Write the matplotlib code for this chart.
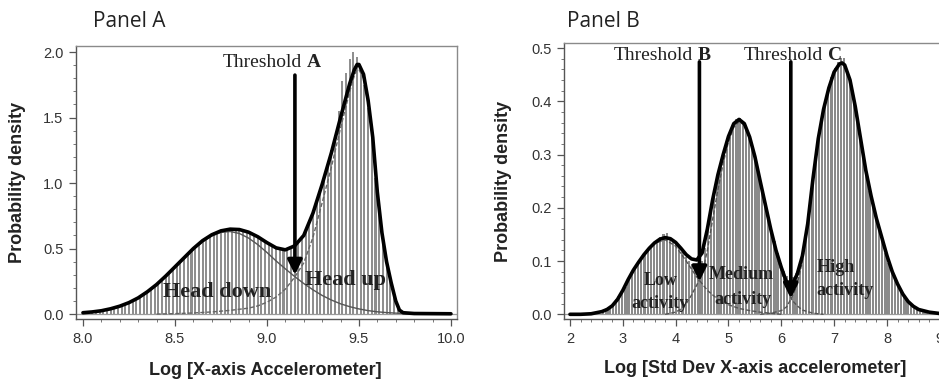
import numpy as np
import matplotlib
matplotlib.use("Agg")
import matplotlib.pyplot as plt
from matplotlib.ticker import MultipleLocator, FormatStrFormatter

# ---------------- Panel A data ----------------
A_BIN_START = 8.0
A_BIN_W = 0.02
a_bar_heights = [
    0.011, 0.014, 0.017, 0.02, 0.024, 0.028, 0.034, 0.041, 0.048, 0.056,
    0.066, 0.076, 0.088, 0.1, 0.115, 0.132, 0.15, 0.17, 0.19, 0.213,
    0.236, 0.262, 0.288, 0.316, 0.344, 0.372, 0.4, 0.428, 0.456, 0.484,
    0.51, 0.535, 0.557, 0.578, 0.595, 0.61, 0.622, 0.633, 0.64, 0.645,
    0.646, 0.645, 0.642, 0.636, 0.627, 0.616, 0.603, 0.588, 0.571, 0.553,
    0.536, 0.52, 0.506, 0.496, 0.491, 0.494, 0.505, 0.522, 0.548, 0.585,
    0.635, 0.705, 0.78, 0.862, 0.95, 1.04, 1.14, 1.25, 1.37, 1.55,
    1.78, 1.84, 1.95, 2.0, 1.96, 1.87, 1.75, 1.57, 1.38, 1.04,
    0.78, 0.54, 0.38, 0.25, 0.14, 0.05, 0.015,
]

a_fit_x = [8.0, 8.05, 8.1, 8.15, 8.2, 8.25, 8.3, 8.35, 8.4, 8.45, 8.5, 8.55,
           8.6, 8.65, 8.7, 8.75, 8.8, 8.85, 8.9, 8.95, 9.0, 9.05, 9.1, 9.15,
           9.2, 9.25, 9.3, 9.35, 9.4, 9.45, 9.475, 9.49, 9.5, 9.525, 9.55,
           9.575, 9.6, 9.625, 9.65, 9.675, 9.7, 9.72, 9.74, 9.8, 9.9, 10.0]
a_fit_y = [0.01, 0.016, 0.025, 0.04, 0.06, 0.087, 0.123, 0.17, 0.225, 0.29,
           0.36, 0.43, 0.50, 0.56, 0.605, 0.635, 0.648, 0.645, 0.625, 0.59,
           0.545, 0.505, 0.49, 0.52, 0.60, 0.77, 0.99, 1.23, 1.50, 1.76,
           1.865, 1.905, 1.905, 1.83, 1.63, 1.35, 0.93, 0.62, 0.40, 0.24,
           0.10, 0.03, 0.01, 0.004, 0.003, 0.002]

a_down_x = [8.0, 8.05, 8.1, 8.15, 8.2, 8.25, 8.3, 8.35, 8.4, 8.45, 8.5, 8.55,
            8.6, 8.65, 8.7, 8.75, 8.8, 8.85, 8.9, 8.95, 9.0, 9.05, 9.1, 9.15,
            9.2, 9.25, 9.3, 9.35, 9.4, 9.45, 9.5, 9.55, 9.6, 9.65, 9.7, 9.75,
            9.8, 9.9]
a_down_y = [0.009, 0.015, 0.024, 0.038, 0.058, 0.085, 0.121, 0.167, 0.222,
            0.285, 0.354, 0.424, 0.492, 0.551, 0.596, 0.623, 0.630, 0.615,
            0.58, 0.53, 0.47, 0.405, 0.345, 0.287, 0.233, 0.185, 0.142, 0.107,
            0.078, 0.056, 0.039, 0.026, 0.017, 0.011, 0.007, 0.004, 0.002, 0.0]

a_up_x = [8.4, 8.5, 8.6, 8.7, 8.8, 8.9, 8.95, 9.0, 9.05, 9.1, 9.15, 9.2, 9.25,
          9.3, 9.35, 9.4, 9.45, 9.475, 9.49, 9.5, 9.525, 9.55, 9.575, 9.6,
          9.625, 9.65, 9.675, 9.7, 9.72, 9.74, 9.8]
a_up_y = [0.0, 0.003, 0.008, 0.016, 0.028, 0.045, 0.062, 0.09, 0.13, 0.19,
          0.28, 0.39, 0.585, 0.85, 1.12, 1.42, 1.70, 1.82, 1.865, 1.865, 1.80,
          1.60, 1.33, 0.915, 0.61, 0.39, 0.23, 0.095, 0.025, 0.006, 0.0]

# ---------------- Panel B data ----------------
B_BIN_START = 2.6
B_BIN_W = 0.06
b_bar_heights = [
    0.005, 0.008, 0.012, 0.017, 0.023, 0.031, 0.041, 0.052, 0.064, 0.076,
    0.086, 0.095, 0.104, 0.112, 0.121, 0.128, 0.134, 0.14, 0.145, 0.15,
    0.152, 0.146, 0.14, 0.133, 0.126, 0.117, 0.108, 0.1, 0.094, 0.09,
    0.092, 0.1, 0.125, 0.16, 0.195, 0.228, 0.258, 0.285, 0.308, 0.328,
    0.345, 0.358, 0.366, 0.368, 0.362, 0.35, 0.334, 0.314, 0.29, 0.264,
    0.238, 0.212, 0.186, 0.16, 0.137, 0.115, 0.096, 0.082, 0.072, 0.068,
    0.07, 0.078, 0.092, 0.115, 0.145, 0.185, 0.24, 0.288, 0.332, 0.368,
    0.398, 0.425, 0.446, 0.462, 0.474, 0.481, 0.482, 0.46, 0.436, 0.404,
    0.37, 0.334, 0.298, 0.262, 0.232, 0.205, 0.18, 0.158, 0.137, 0.116,
    0.097, 0.08, 0.065, 0.052, 0.041, 0.032, 0.024, 0.018, 0.013, 0.01,
    0.008, 0.006, 0.004, 0.003, 0.002,
]

b_fit_x = [2.0, 2.2, 2.4, 2.6, 2.7, 2.8, 2.9, 3.0, 3.1, 3.2, 3.3, 3.4, 3.5,
           3.6, 3.7, 3.8, 3.9, 4.0, 4.1, 4.2, 4.3, 4.4, 4.5, 4.6, 4.7, 4.8,
           4.9, 5.0, 5.1, 5.2, 5.3, 5.4, 5.5, 5.6, 5.7, 5.8, 5.9, 6.0, 6.1,
           6.15, 6.2, 6.3, 6.4, 6.5, 6.6, 6.7, 6.8, 6.9, 7.0, 7.1, 7.15, 7.2,
           7.3, 7.4, 7.5, 7.6, 7.7, 7.8, 7.9, 8.0, 8.1, 8.2, 8.3, 8.4, 8.5,
           8.6, 8.8, 9.0, 9.3]
b_fit_y = [0.0, 0.0, 0.001, 0.005, 0.009, 0.016, 0.028, 0.045, 0.065, 0.083,
           0.098, 0.112, 0.124, 0.134, 0.141, 0.144, 0.142, 0.135, 0.124,
           0.112, 0.104, 0.102, 0.115, 0.16, 0.215, 0.262, 0.30, 0.334, 0.358,
           0.366, 0.358, 0.333, 0.296, 0.25, 0.205, 0.16, 0.12, 0.088, 0.06,
           0.052, 0.055, 0.075, 0.11, 0.17, 0.255, 0.33, 0.385, 0.425, 0.455,
           0.47, 0.472, 0.468, 0.44, 0.39, 0.33, 0.27, 0.222, 0.18, 0.145,
           0.11, 0.08, 0.057, 0.038, 0.024, 0.015, 0.009, 0.004, 0.0015, 0.0]

b_low_x = [2.2, 2.4, 2.6, 2.8, 3.0, 3.2, 3.4, 3.6, 3.8, 4.0, 4.2, 4.4, 4.6,
           4.8, 5.0, 5.2, 5.4, 5.6, 5.8, 6.0]
b_low_y = [0.0, 0.001, 0.005, 0.016, 0.045, 0.083, 0.112, 0.133, 0.140, 0.128,
           0.10, 0.07, 0.045, 0.028, 0.018, 0.011, 0.007, 0.004, 0.002, 0.0]

b_med_x = [3.8, 4.0, 4.1, 4.2, 4.3, 4.4, 4.5, 4.6, 4.7, 4.8, 4.9, 5.0, 5.1,
           5.2, 5.3, 5.4, 5.5, 5.6, 5.7, 5.8, 5.9, 6.0, 6.1, 6.2, 6.3, 6.4,
           6.6, 6.8]
b_med_y = [0.0, 0.004, 0.01, 0.02, 0.036, 0.055, 0.075, 0.12, 0.178, 0.234,
           0.284, 0.324, 0.351, 0.362, 0.355, 0.33, 0.293, 0.248, 0.202,
           0.156, 0.115, 0.08, 0.051, 0.027, 0.016, 0.008, 0.002, 0.0]

b_high_x = [5.6, 5.8, 6.0, 6.1, 6.2, 6.3, 6.4, 6.5, 6.6, 6.7, 6.8, 6.9, 7.0,
            7.1, 7.15, 7.2, 7.3, 7.4, 7.5, 7.6, 7.7, 7.8, 7.9, 8.0, 8.2, 8.4,
            8.6, 8.8, 9.0, 9.3]
b_high_y = [0.0, 0.002, 0.007, 0.014, 0.032, 0.056, 0.1, 0.165, 0.25, 0.325,
            0.382, 0.422, 0.453, 0.469, 0.471, 0.467, 0.439, 0.389, 0.329,
            0.269, 0.221, 0.179, 0.144, 0.109, 0.056, 0.023, 0.009, 0.004,
            0.001, 0.0]

# thresholds (x position, arrow tip value)
thr_A = (9.152, 0.30)
thr_B = (4.45, 0.062)
thr_C = (6.18, 0.03)

SERIF = "Liberation Serif"
SANS = "Liberation Sans"

fig = plt.figure(figsize=(9.39, 3.80), dpi=100)
axA = fig.add_axes([0.0809, 0.1605, 0.4058, 0.7184])
axB = fig.add_axes([0.6006, 0.1597, 0.4115, 0.7280])


def style(ax, xmaj, xmin, ymaj, ymin, xfmt, yfmt):
    for name, s in ax.spines.items():
        s.set_linewidth(1.0)
        s.set_color("#555555" if name in ("left", "bottom") else "#8a8a8a")
    ax.xaxis.set_major_locator(MultipleLocator(xmaj))
    ax.xaxis.set_minor_locator(MultipleLocator(xmin))
    ax.yaxis.set_major_locator(MultipleLocator(ymaj))
    ax.yaxis.set_minor_locator(MultipleLocator(ymin))
    ax.xaxis.set_major_formatter(FormatStrFormatter(xfmt))
    ax.yaxis.set_major_formatter(FormatStrFormatter(yfmt))
    ax.tick_params(which="major", direction="out", length=5, width=0.9,
                   color="#555555", labelsize=10.5, labelcolor="#333333", pad=4)
    ax.tick_params(which="minor", direction="out", length=2.5, width=0.7,
                   color="#777777")
    ax.tick_params(top=False, right=False, which="both")
    for lab in ax.get_xticklabels() + ax.get_yticklabels():
        lab.set_fontfamily(SANS)


def thr(ax, x, tip, top, ms):
    ax.annotate("", xy=(x, tip), xytext=(x, top),
                arrowprops=dict(arrowstyle="-|>", color="black", lw=2.6,
                                mutation_scale=ms, shrinkA=0, shrinkB=0),
                zorder=8)


def thr_label(ax, x, y, letter):
    ax.text(x, y, "Threshold", family=SERIF, fontsize=14, ha="right",
            va="baseline", color="#222222", zorder=9)
    ax.annotate(letter, xy=(x, y), xytext=(3.5, 0), textcoords="offset points",
                family=SERIF, fontsize=14, fontweight="bold", ha="left",
                va="baseline", color="#222222", zorder=9)


# ---------------- Panel A ----------------
a_centers = A_BIN_START + A_BIN_W * (np.arange(len(a_bar_heights)) + 0.5)
axA.bar(a_centers, a_bar_heights, width=A_BIN_W * 0.55, color="#8f8f8f",
        linewidth=0, zorder=2)
axA.axhline(0, color="#9a9a9a", lw=0.9, zorder=1)
axA.plot(a_down_x, a_down_y, color="#555555", lw=1.0, zorder=3)
axA.plot(a_up_x, a_up_y, color="#666666", lw=1.0, ls=(0, (3, 1.5)), zorder=3)
axA.plot(a_fit_x, a_fit_y, color="black", lw=2.6, zorder=5,
         solid_capstyle="round", solid_joinstyle="round")
axA.set_xlim(7.962, 10.033)
axA.set_ylim(-0.038, 2.046)
style(axA, 0.5, 0.1, 0.5, 0.1, "%.1f", "%.1f")
thr(axA, thr_A[0], thr_A[1], 1.824, 22)
thr_label(axA, 9.19, 1.888, "A")
axA.text(8.73, 0.13, "Head down", family=SERIF, fontsize=16, fontweight="bold",
         ha="center", va="baseline", color="#222222", zorder=9)
axA.text(9.425, 0.22, "Head up", family=SERIF, fontsize=16, fontweight="bold",
         ha="center", va="baseline", color="#222222", zorder=9)
axA.set_xlabel("Log [X-axis Accelerometer]", family=SANS, fontsize=13,
               fontweight="bold", color="#222222")
axA.xaxis.set_label_coords(0.496, -0.156)
axA.set_ylabel("Probability density", family=SANS, fontsize=13,
               fontweight="bold", color="#222222")
axA.yaxis.set_label_coords(-0.131, 0.5)

# ---------------- Panel B ----------------
b_centers = B_BIN_START + B_BIN_W * (np.arange(len(b_bar_heights)) + 0.5)
axB.bar(b_centers, b_bar_heights, width=B_BIN_W * 0.72, color="#8a8a8a",
        linewidth=0, zorder=2)
axB.axhline(0, color="#9a9a9a", lw=0.9, zorder=1)
for xs, ys in ((b_low_x, b_low_y), (b_med_x, b_med_y), (b_high_x, b_high_y)):
    axB.plot(xs, ys, color="#555555", lw=1.0, ls=(0, (3, 1.5)), zorder=3)
axB.plot(b_fit_x, b_fit_y, color="black", lw=2.6, zorder=5,
         solid_capstyle="round", solid_joinstyle="round")
axB.set_xlim(1.886, 9.2)
axB.set_ylim(-0.0094, 0.51)
style(axB, 1, 0.2, 0.1, 0.02, "%d", "%.1f")
thr(axB, thr_B[0], thr_B[1], 0.474, 22)
thr(axB, thr_C[0], thr_C[1], 0.474, 22)
thr_label(axB, 4.33, 0.477, "B")
thr_label(axB, 6.79, 0.477, "C")
kw = dict(family=SERIF, fontsize=13, fontweight="bold", va="baseline",
          color="#222222", zorder=9)
axB.text(3.71, 0.055, "Low", ha="center", **kw)
axB.text(3.70, 0.011, "activity", ha="center", **kw)
axB.text(5.25, 0.067, "Medium", ha="center", **kw)
axB.text(5.27, 0.020, "activity", ha="center", **kw)
axB.text(6.67, 0.080, "High", ha="left", **kw)
axB.text(6.67, 0.036, "activity", ha="left", **kw)
axB.set_xlabel("Log [Std Dev X-axis accelerometer]", family=SANS, fontsize=13,
               fontweight="bold", color="#222222")
axB.xaxis.set_label_coords(0.494, -0.147)
axB.set_ylabel("Probability density", family=SANS, fontsize=13,
               fontweight="bold", color="#222222")
axB.yaxis.set_label_coords(-0.1346, 0.5)

# ---------------- Panel titles ----------------
fig.text(93 / 939, 1 - 27 / 380, "Panel A", family="Open Sans", fontsize=15,
         ha="left", va="baseline", color="#222222")
fig.text(567 / 939, 1 - 27 / 380, "Panel B", family="Open Sans", fontsize=15,
         ha="left", va="baseline", color="#222222")

fig.savefig("out.png", dpi=100)
